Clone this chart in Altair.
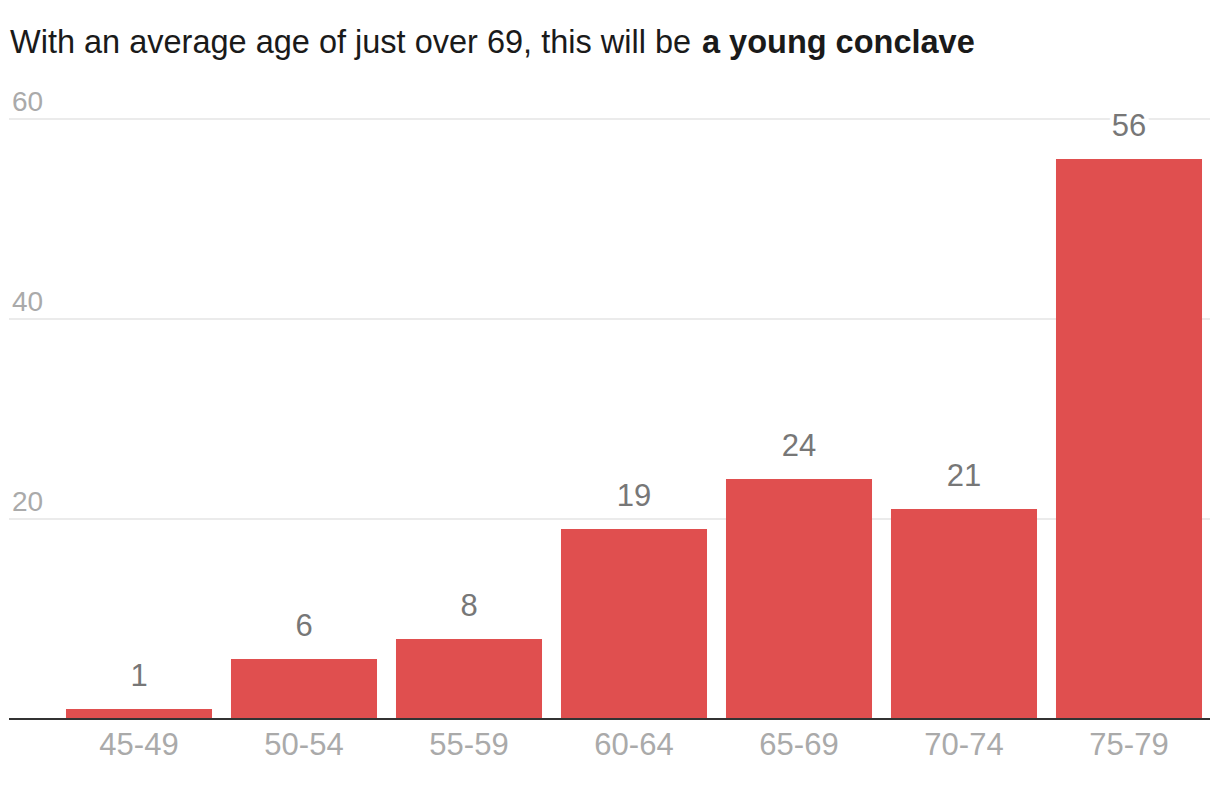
import altair as alt
import pandas as pd

ages = ["45-49", "50-54", "55-59", "60-64", "65-69", "70-74", "75-79"]
counts = [1, 6, 8, 19, 24, 21, 56]
grid_values = [20, 40, 60]
title_plain = "With an average age of just over 69, this will be"
title_bold = "a young conclave"

df = pd.DataFrame({"age": ages, "count": counts})
grid_df = pd.DataFrame({"v": grid_values})
base_df = pd.DataFrame({"v": [0]})
FONT = "Liberation Sans"

yscale = alt.Scale(domain=[0, 60], nice=False)
x = alt.X("age:N", sort=ages, title=None,
          scale=alt.Scale(range=[47.5, 1202.5], paddingInner=0.115, paddingOuter=0.0575),
          axis=alt.Axis(labelAngle=0, labelFontSize=31, labelColor="#aaaaaa", labelFont=FONT,
                        labelPadding=11, ticks=False, domain=False, grid=False))
y = alt.Y("count:Q", title=None, scale=yscale, axis=None)

grid = alt.Chart(grid_df).mark_rule(color="#e4e4e4", strokeWidth=1.5).encode(
    y=alt.Y("v:Q", scale=yscale, axis=None), x=alt.value(0), x2=alt.value(1201))
glabels = alt.Chart(grid_df).mark_text(
    align="left", baseline="alphabetic", dx=3, dy=-8, fontSize=28, font=FONT, color="#aaaaaa"
).encode(y=alt.Y("v:Q", scale=yscale, axis=None), x=alt.value(0), text="v:Q")
baseline = alt.Chart(base_df).mark_rule(color="#333333", strokeWidth=2).encode(
    y=alt.Y("v:Q", scale=yscale, axis=None), x=alt.value(0), x2=alt.value(1201))

base = alt.Chart(df)
bars = base.mark_bar(color="#e04f4f").encode(x=x, y=y)
halo = base.mark_text(baseline="bottom", dy=-16, fontSize=31, font=FONT, stroke="white",
                      strokeWidth=8, color="white").encode(x=x, y=y, text="count:Q")
labels = base.mark_text(baseline="bottom", dy=-16, fontSize=31, font=FONT,
                        color="#777777").encode(x=x, y=y, text="count:Q")

t1 = alt.Chart(pd.DataFrame({"t": [title_plain]})).mark_text(
    align="left", baseline="alphabetic", fontSize=32.5, font=FONT, color="#1a1a1a"
).encode(x=alt.value(1), y=alt.value(-66), text="t:N")
t2 = alt.Chart(pd.DataFrame({"t": [title_bold]})).mark_text(
    align="left", baseline="alphabetic", fontSize=32.5, font=FONT, fontWeight="bold", color="#1a1a1a"
).encode(x=alt.value(693), y=alt.value(-66), text="t:N")

chart = alt.layer(grid, glabels, bars, halo, labels, baseline, t1, t2).properties(
    width=1201, height=600,
    autosize=alt.AutoSizeParams(type="none"),
    padding={"left": 1, "top": 111, "right": 0, "bottom": 50},
).configure_view(stroke=None)

chart.save("out.html", embed_options={"renderer": "svg", "actions": False})
